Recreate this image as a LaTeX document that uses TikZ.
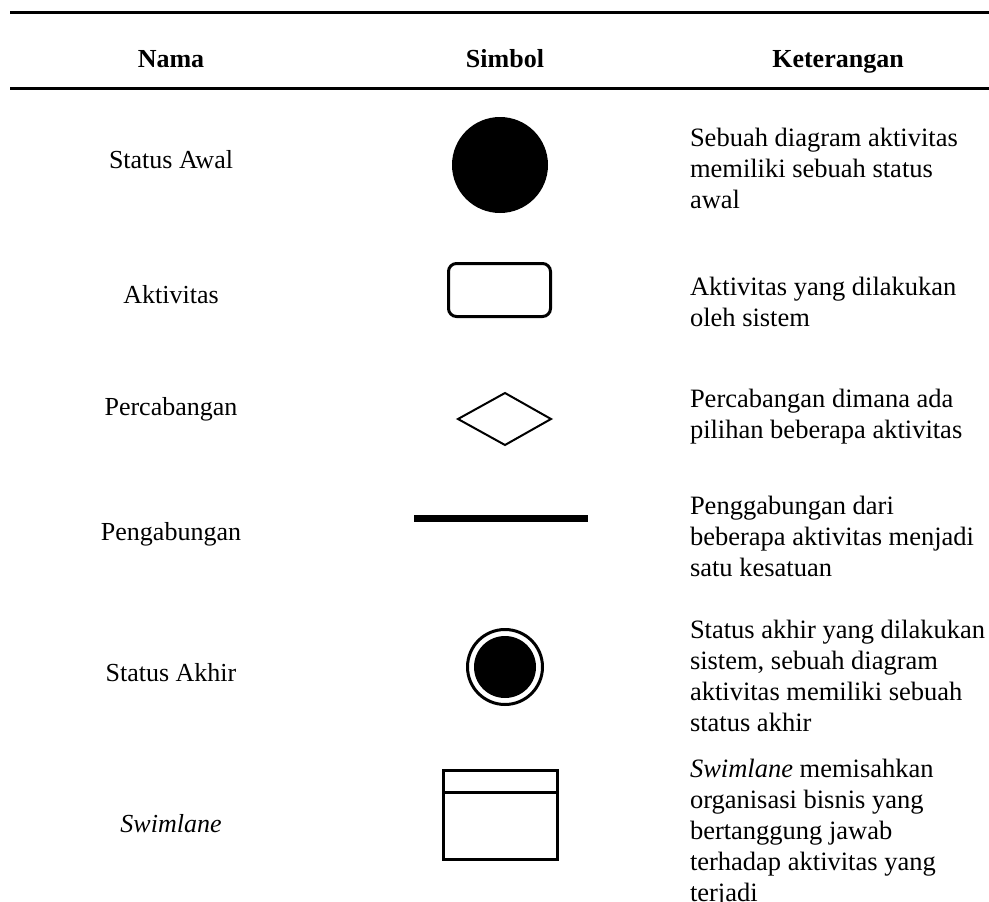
\documentclass[tikz,border=0pt]{standalone}
\usepackage{fontspec}
\setmainfont{Liberation Serif}
\begin{document}
\begin{tikzpicture}[x=1pt,y=-1pt,
  txt/.style={font=\fontsize{26}{31}\selectfont, inner sep=0pt, outer sep=0pt},
  headcell/.style={txt, font=\fontsize{26}{31}\selectfont\bfseries, anchor=base},
  namecell/.style={txt, anchor=base},
  desccell/.style={txt, font=\fontsize{26.5}{31}\selectfont, align=left, anchor=north west},
  hrule/.style={line width=3pt},
  symline/.style={line width=3pt, draw=black}]
\clip (0,0) rectangle (989,902);

% table rules
\coordinate (r1a) at (10,12);  \coordinate (r1b) at (989,12);
\coordinate (r2a) at (10,88);  \coordinate (r2b) at (989,88);
\draw[hrule] (r1a) -- (r1b);
\draw[hrule] (r2a) -- (r2b);

% header
\node[headcell] (hNama)  at (171,67) {Nama};
\node[headcell] (hSimbol) at (505,67) {Simbol};
\node[headcell] (hKet)   at (838,67) {Keterangan};

% names
\node[namecell] (nAwal)  at (171,168) {Status Awal};
\node[namecell] (nAkt)   at (171,303) {Aktivitas};
\node[namecell] (nCab)   at (171,415) {Percabangan};
\node[namecell] (nGab)   at (171,540) {Pengabungan};
\node[namecell] (nAkhir) at (171,681) {Status Akhir};
\node[namecell] (nSwim)  at (171,832) {\itshape Swimlane};

% symbols
\node[circle, fill=black, minimum size=96pt, inner sep=0pt] (sAwal) at (500,165) {};
\node[symline, rounded corners=8pt, minimum width=102pt, minimum height=53pt, inner sep=0pt] (sAkt) at (499.5,290) {};
\draw[line width=2pt, line join=miter] (458,419) -- (505,393) -- (551,419) -- (505,445) -- cycle;
\draw[line width=7pt] (414,518) -- (588,518);
\draw[line width=3pt] (505,667) circle (37.5pt);
\fill (505,667) circle (31pt);
\draw[line width=3pt] (443.5,770.5) rectangle (557.5,859.5);
\draw[line width=3pt] (443.5,792) -- (557.5,792);

% descriptions
\node[desccell] (dAwal) at (690,128) {Sebuah diagram aktivitas\\memiliki sebuah status\\awal};
\node[desccell] (dAkt) at (690,277) {Aktivitas yang dilakukan\\oleh sistem};
\node[desccell] (dCab) at (690,389) {Percabangan dimana ada\\pilihan beberapa aktivitas};
\node[desccell] (dGab) at (690,496) {Penggabungan dari\\beberapa aktivitas menjadi\\satu kesatuan};
\node[desccell] (dAkhir) at (690,620) {Status akhir yang dilakukan\\sistem, sebuah diagram\\aktivitas memiliki sebuah\\status akhir};
\node[desccell] (dSwim) at (690,759) {\textit{Swimlane} memisahkan\\organisasi bisnis yang\\bertanggung jawab\\terhadap aktivitas yang\\terjadi};
\end{tikzpicture}
\end{document}
